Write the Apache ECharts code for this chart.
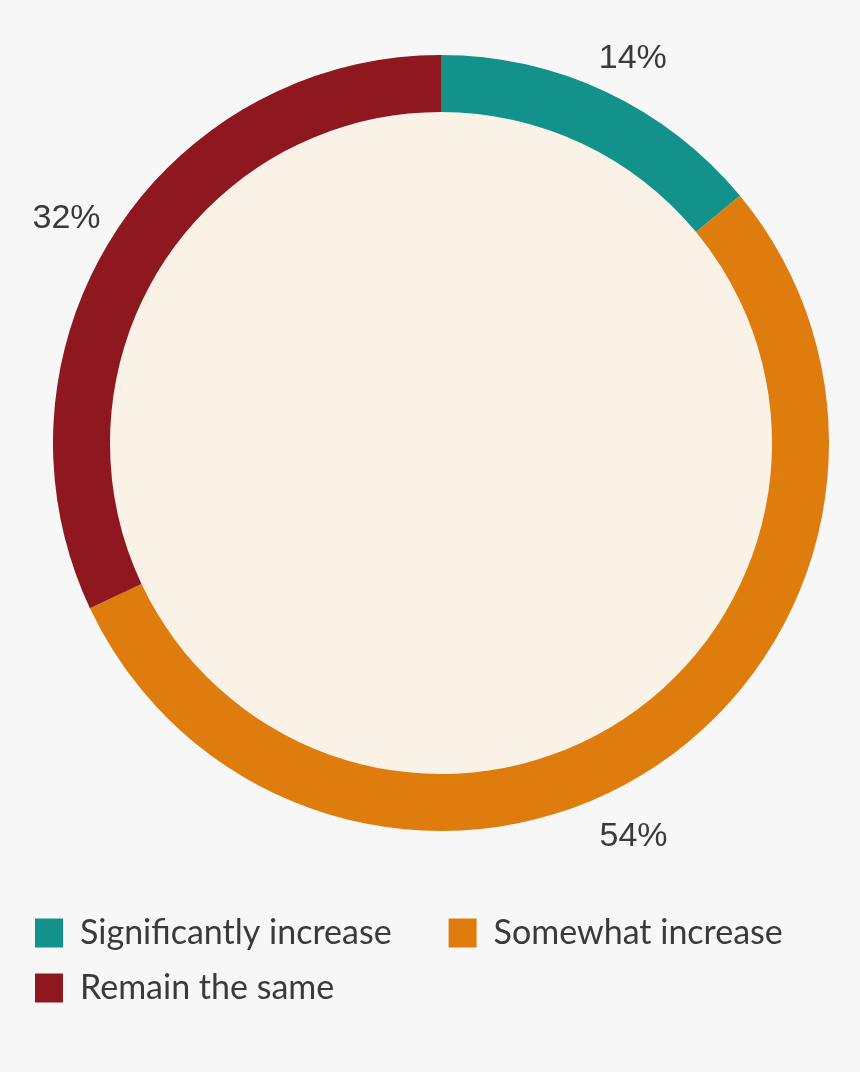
<!DOCTYPE html>
<html><head><meta charset="utf-8">
<script src="https://cdn.jsdelivr.net/npm/echarts@6/dist/echarts.min.js"></script>
<style>html,body{margin:0;padding:0;background:#f7f7f7}#c{width:860px;height:1072px}</style>
</head><body><div id="c"></div>
<script>
const categories = ['Significantly increase', 'Somewhat increase', 'Remain the same'];
const values = [14, 54, 32];
const colors = ['#13928C', '#DE7D0E', '#8E1720'];

const CX = 441, CY = 443, R_IN = 331, R_OUT = 388, LABEL_R = 434;
// small per-label nudges (px) to follow the reference label placement
const labelNudge = [[7, 8], [-40, 27], [-8, 8]];
const total = values.reduce((a, b) => a + b, 0);
const mids = [];
let acc = 0;
values.forEach(v => { mids.push((acc + v / 2) / total * 2 * Math.PI); acc += v; });

const legendText = { fontFamily: 'Lato', fontSize: 34, color: '#3a3a3a', padding: [0, 0, 0, 12] };
const chart = echarts.init(document.getElementById('c'));
chart.setOption({
  backgroundColor: '#f7f7f7',
  animation: false,
  legend: [{
    left: 35, top: 916, padding: 0, itemWidth: 28, itemHeight: 29, itemGap: 57, icon: 'rect',
    data: categories.slice(0, 2), textStyle: legendText
  }, {
    left: 35, top: 971, padding: 0, itemWidth: 28, itemHeight: 29, icon: 'rect',
    data: categories.slice(2), textStyle: legendText
  }],
  series: [{
    type: 'pie', silent: true, center: [CX, CY], radius: [0, R_IN],
    label: { show: false }, labelLine: { show: false },
    data: [{ name: 'inner', value: 1, itemStyle: { color: '#FAF2E7' } }]
  }, {
    type: 'pie', center: [CX, CY], radius: [R_IN, R_OUT], startAngle: 90, clockwise: true,
    avoidLabelOverlap: false,
    data: categories.map((c, i) => ({ name: c, value: values[i], itemStyle: { color: colors[i] } })),
    label: {
      show: true, position: 'outside', formatter: '{d}%',
      fontFamily: 'Liberation Sans', fontSize: 34, color: '#3a3a3a'
    },
    labelLine: { show: false },
    labelLayout: function (p) {
      const a = mids[p.dataIndex];
      const n = labelNudge[p.dataIndex];
      return {
        x: CX + LABEL_R * Math.sin(a) + n[0], y: CY - LABEL_R * Math.cos(a) + n[1],
        align: 'center', verticalAlign: 'middle'
      };
    }
  }]
});
</script></body></html>
